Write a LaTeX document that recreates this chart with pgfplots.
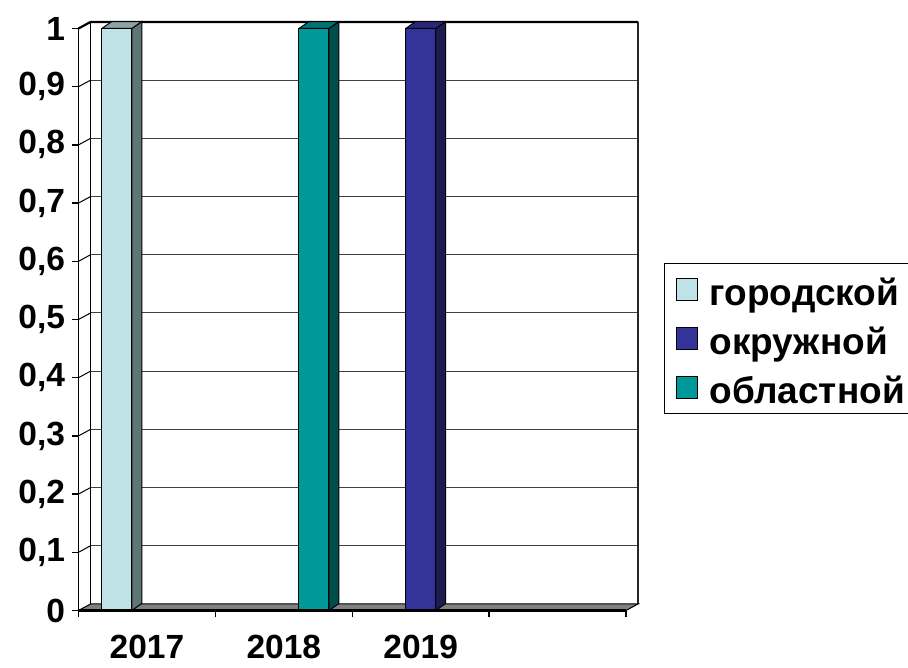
\documentclass[border=0pt]{standalone}
\usepackage{pgfplots}
\pgfplotsset{compat=1.18}
\usepackage{pgfplotstable}
\usepackage{fontspec}
\setmainfont{Liberation Sans}

\definecolor{cityF}{RGB}{190,226,230}
\definecolor{cityS}{RGB}{95,118,119}
\definecolor{cityT}{RGB}{139,163,165}
\definecolor{distF}{RGB}{51,51,153}
\definecolor{distS}{RGB}{28,28,80}
\definecolor{distT}{RGB}{40,40,120}
\definecolor{regF}{RGB}{0,153,153}
\definecolor{regS}{RGB}{0,77,77}
\definecolor{regT}{RGB}{0,115,115}
\definecolor{floorgray}{RGB}{128,128,128}

% 0 = 2017, 1 = 2018, 2 = 2019
\pgfplotstableread{
x y
0 1
1 0
2 0
}\gorod
\pgfplotstableread{
x y
0 0
1 0
2 1
}\okrug
\pgfplotstableread{
x y
0 0
1 1
2 0
}\oblast

\begin{document}
\begin{tikzpicture}
\useasboundingbox (0,0) rectangle (908pt,667pt);
\begin{axis}[
    at={(78.5pt,56.5pt)}, anchor=south west,
    scale only axis, width=547.5pt, height=582pt,
    xmin=-0.5, xmax=3.5, ymin=0, ymax=1,
    clip=false,
    axis line style={draw=none},
    tick pos=left,
    tick align=outside,
    major tick length=6.5pt,
    tick style={black, line width=1.3pt},
    ytick={0,0.1,0.2,0.3,0.4,0.5,0.6,0.7,0.8,0.9,1},
    /pgf/number format/use comma,
    /pgf/number format/assume math mode=true,
    xtick={-0.5,0.5,1.5,2.5,3.5}, xticklabels={},
    extra x ticks={0,1,2},
    extra x tick labels={2017,2018,2019},
    extra x tick style={major tick length=0pt},
    ticklabel style={font=\bfseries\fontsize{33.5}{33.5}\selectfont},
    yticklabel style={xshift=-3.5pt},
    xticklabel style={yshift=-21pt},
    legend cell align=left,
    legend style={at={(axis description cs:1.0694,0.5971)}, anchor=north west,
        draw=black, line width=1.5pt, inner xsep=11pt, inner ysep=7.5pt,
        row sep=12pt, font=\bfseries\fontsize{37}{37}\selectfont,
        nodes={inner sep=0pt, text height=34pt, text depth=3pt},
        /tikz/every odd column/.append style={column sep=11.5pt}},
    legend image code/.code={\draw[#1, line width=1pt] (0pt,-10.75pt) rectangle (21.5pt,10.75pt);},
]
% back wall grid
\addplot[black!75, line width=1pt, forget plot, unbounded coords=jump] coordinates {
 (-0.4123,0.1112) (3.5877,0.1112) (0,nan)
 (-0.4123,0.2112) (3.5877,0.2112) (0,nan)
 (-0.4123,0.3112) (3.5877,0.3112) (0,nan)
 (-0.4123,0.4112) (3.5877,0.4112) (0,nan)
 (-0.4123,0.5112) (3.5877,0.5112) (0,nan)
 (-0.4123,0.6112) (3.5877,0.6112) (0,nan)
 (-0.4123,0.7112) (3.5877,0.7112) (0,nan)
 (-0.4123,0.8112) (3.5877,0.8112) (0,nan)
 (-0.4123,0.9112) (3.5877,0.9112)
};
% left side wall
\addplot[black, line width=1pt, forget plot, unbounded coords=jump] coordinates {
 (-0.5,0.1) (-0.4123,0.1112) (0,nan)
 (-0.5,0.2) (-0.4123,0.2112) (0,nan)
 (-0.5,0.3) (-0.4123,0.3112) (0,nan)
 (-0.5,0.4) (-0.4123,0.4112) (0,nan)
 (-0.5,0.5) (-0.4123,0.5112) (0,nan)
 (-0.5,0.6) (-0.4123,0.6112) (0,nan)
 (-0.5,0.7) (-0.4123,0.7112) (0,nan)
 (-0.5,0.8) (-0.4123,0.8112) (0,nan)
 (-0.5,0.9) (-0.4123,0.9112)
};
\addplot[black, line width=1.3pt, forget plot] coordinates {(-0.5,0) (-0.5,1)};
\addplot[black, line width=1.3pt, forget plot] coordinates {(-0.4123,0.0112) (-0.4123,1.0112)};
\addplot[black!85, line width=1.3pt, forget plot] coordinates {(3.5877,1.0112) (3.5877,0.0112)};
\addplot[black, line width=2.2pt, forget plot] coordinates {(-0.5,1) (-0.4123,1.0112) (3.5877,1.0112)};
% floor
\addplot[fill=floorgray, draw=black, line width=1pt, forget plot] coordinates {
 (-0.5,0) (3.5,0) (3.5877,0.0112) (-0.4123,0.0112) (-0.5,0)};

% bars, front faces
\addplot[ybar, bar width=0.219, bar shift=-0.22, fill=cityF, draw=black, line width=1pt] table[x=x,y=y]{\gorod};
\addlegendentry{городской}
\addplot[ybar, bar width=0.219, bar shift=0, fill=distF, draw=black, line width=1pt] table[x=x,y=y]{\okrug};
\addlegendentry{окружной}
\addplot[ybar, bar width=0.219, bar shift=0.22, fill=regF, draw=black, line width=1pt] table[x=x,y=y]{\oblast};
\addlegendentry{областной}

% bars, side and top faces
\addplot[fill=cityS, draw=black, line width=1pt, forget plot] coordinates {
 (-0.1105,0) (-0.1105,1) (-0.0375,1.012) (-0.0375,0.012) (-0.1105,0)};
\addplot[fill=cityT, draw=black, line width=1pt, forget plot] coordinates {
 (-0.3295,1) (-0.1105,1) (-0.0375,1.012) (-0.2565,1.012) (-0.3295,1)};
\addplot[fill=regS, draw=black, line width=1pt, forget plot] coordinates {
 (1.3295,0) (1.3295,1) (1.4025,1.012) (1.4025,0.012) (1.3295,0)};
\addplot[fill=regT, draw=black, line width=1pt, forget plot] coordinates {
 (1.1105,1) (1.3295,1) (1.4025,1.012) (1.1835,1.012) (1.1105,1)};
\addplot[fill=distS, draw=black, line width=1pt, forget plot] coordinates {
 (2.1095,0) (2.1095,1) (2.1825,1.012) (2.1825,0.012) (2.1095,0)};
\addplot[fill=distT, draw=black, line width=1pt, forget plot] coordinates {
 (1.8905,1) (2.1095,1) (2.1825,1.012) (1.9635,1.012) (1.8905,1)};

% front edge of the floor
\addplot[black, line width=2.4pt, forget plot] coordinates {(-0.5,0) (3.5,0)};
\end{axis}
\end{tikzpicture}
\end{document}
